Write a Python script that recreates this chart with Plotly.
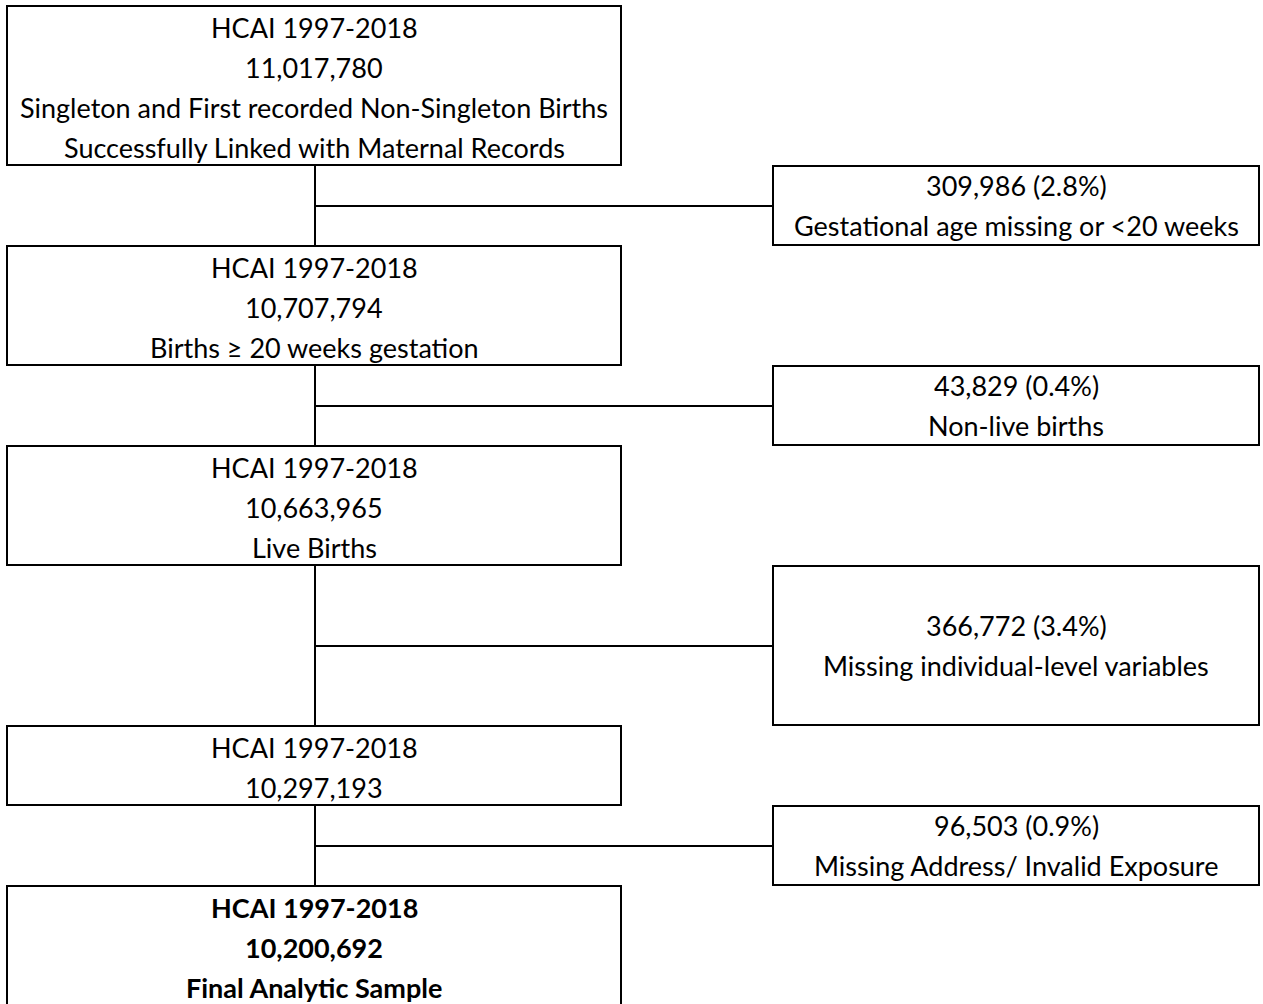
import plotly.graph_objects as go

# ---- data ----
main_titles = ["HCAI 1997-2018"] * 5
main_counts = ["11,017,780", "10,707,794", "10,663,965", "10,297,193", "10,200,692"]
main_descs = [
    ["Singleton and First recorded Non-Singleton Births", "Successfully Linked with Maternal Records"],
    ["Births \u2265 20 weeks gestation"],
    ["Live Births"],
    [],
    ["Final Analytic Sample"],
]
excl_counts = ["309,986 (2.8%)", "43,829 (0.4%)", "366,772 (3.4%)", "96,503 (0.9%)"]
excl_descs = [
    "Gestational age missing or <20 weeks",
    "Non-live births",
    "Missing individual-level variables",
    "Missing Address/ Invalid Exposure",
]

# ---- layout (pixel geometry, page coordinates) ----
PAGE_W, PAGE_H = 1263, 1004
LX0, LX1 = 7, 621
RX0, RX1 = 773, 1259
SPINE_X = 315
main_boxes_y = [(6, 165), (246, 365), (446, 565), (726, 805), (886, 1030)]
excl_boxes_y = [(166, 245), (366, 445), (566, 725), (806, 885)]
LINE_H = 40
FONT = dict(family="Lato, 'Open Sans', sans-serif", size=27, color="black")

fig = go.Figure()
shapes = []
annots = []

def add_lines(lines, xc, ytop_first, bold_flags):
    for i, (t, b) in enumerate(zip(lines, bold_flags)):
        annots.append(dict(
            x=xc, y=ytop_first + i * LINE_H, xref="x", yref="y",
            text=f"<b>{t}</b>" if b else t, showarrow=False,
            xanchor="center", yanchor="middle", font=FONT,
        ))

for k, (y0, y1) in enumerate(main_boxes_y):
    shapes.append(dict(type="rect", x0=LX0, x1=LX1, y0=y0, y1=y1, xref="x", yref="y",
                       line=dict(color="black", width=2), fillcolor="rgba(0,0,0,0)", layer="above"))
    lines = [main_titles[k], main_counts[k]] + main_descs[k]
    bold = [k == len(main_boxes_y) - 1] * len(lines)
    add_lines(lines, (LX0 + LX1) / 2, y0 + 21, bold)

for k, (y0, y1) in enumerate(excl_boxes_y):
    shapes.append(dict(type="rect", x0=RX0, x1=RX1, y0=y0, y1=y1, xref="x", yref="y",
                       line=dict(color="black", width=2), fillcolor="rgba(0,0,0,0)", layer="above"))
    lines = [excl_counts[k], excl_descs[k]]
    yc = (y0 + y1) / 2
    add_lines(lines, (RX0 + RX1) / 2, yc - LINE_H / 2, [False, False])

# vertical spine segments between main boxes
for k in range(len(main_boxes_y) - 1):
    shapes.append(dict(type="line", x0=SPINE_X, x1=SPINE_X, y0=main_boxes_y[k][1],
                       y1=main_boxes_y[k + 1][0], xref="x", yref="y",
                       line=dict(color="black", width=2)))
# horizontal connectors to exclusion boxes
for (y0, y1) in excl_boxes_y:
    yc = round((y0 + y1) / 2)
    shapes.append(dict(type="line", x0=SPINE_X, x1=RX0, y0=yc, y1=yc, xref="x", yref="y",
                       line=dict(color="black", width=2)))

fig.update_layout(
    width=PAGE_W, height=PAGE_H,
    margin=dict(l=0, r=0, t=0, b=0),
    paper_bgcolor="white", plot_bgcolor="white",
    xaxis=dict(range=[0, PAGE_W], visible=False, fixedrange=True),
    yaxis=dict(range=[PAGE_H, 0], visible=False, fixedrange=True),
    shapes=shapes, annotations=annots, showlegend=False,
)
fig.write_html(
    "out.html",
    config={"displayModeBar": False},
    post_script="document.body.style.margin='0';document.body.style.overflow='hidden';",
)
